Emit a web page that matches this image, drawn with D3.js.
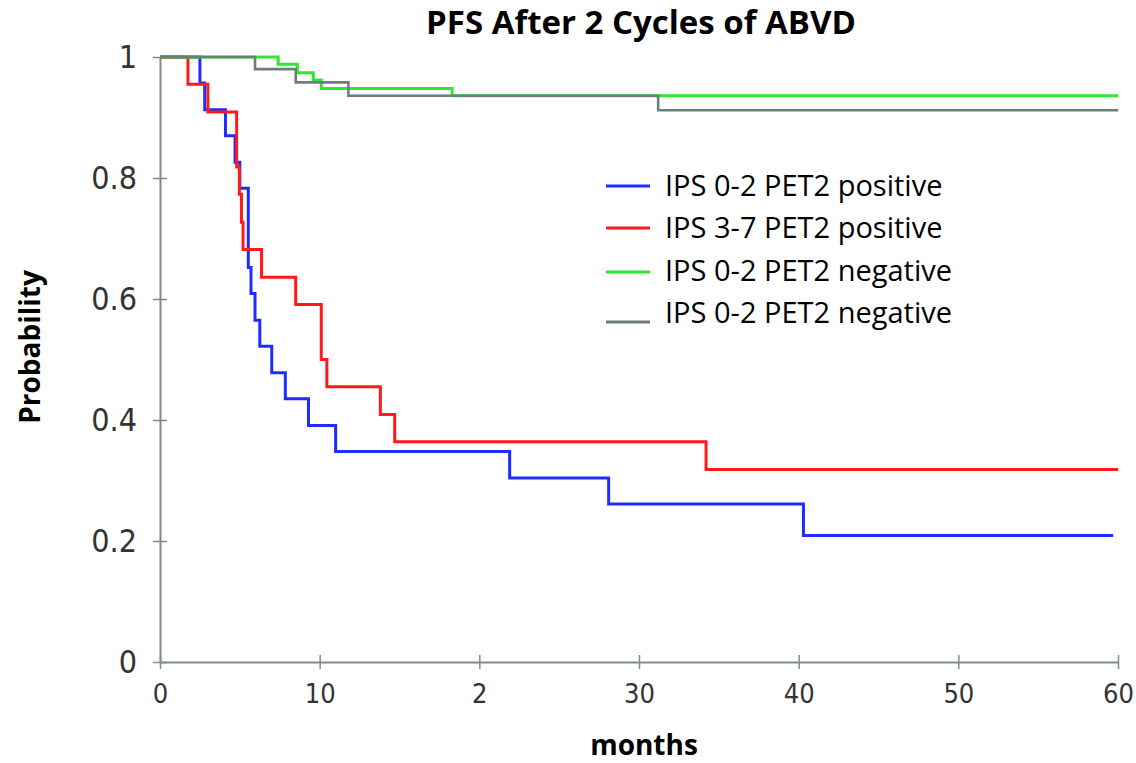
<!DOCTYPE html>
<html lang="en">
<head>
<meta charset="UTF-8">
<title>PFS After 2 Cycles of ABVD</title>
<style>
  body { margin: 0; background: #fff; }
  .tick text { font-family: "DejaVu Sans", sans-serif; font-stretch: condensed; font-weight: normal; fill: #333; }
  .lbl { font-family: "Open Sans", sans-serif; font-weight: bold; fill: #000; }
  .legend text { font-family: "Open Sans", sans-serif; fill: #000; }
</style>
</head>
<body>
<div id="chart"></div>
<script src="https://d3js.org/d3.v7.min.js"></script>
<script>
// x tick labels as printed in the figure (the "2" is in the original)
const xTickValues = [0, 10, 20, 30, 40, 50, 60];
const xTickLabels = ["0", "10", "2", "30", "40", "50", "60"];
const yTickValues = [0, 0.2, 0.4, 0.6, 0.8, 1];
const yTickLabels = ["0", "0.2", "0.4", "0.6", "0.8", "1"];

const seriesNames = ["IPS 0-2 PET2 positive", "IPS 3-7 PET2 positive", "IPS 0-2 PET2 negative", "IPS 0-2 PET2 negative"];

// step curves: time of each step (months) and survival after that step
const blueMonths = [0, 2.5, 2.8, 4.1, 4.7, 5.0, 5.53, 5.7, 5.95, 6.25, 7.0, 7.85, 9.3, 11.0, 21.9, 28.1, 40.3, 59.7];
const blueProb   = [1, 0.957, 0.913, 0.870, 0.826, 0.783, 0.652, 0.609, 0.565, 0.522, 0.478, 0.435, 0.391, 0.348, 0.304, 0.261, 0.209, 0.209];

const redMonths = [0, 1.75, 3.0, 4.8, 4.97, 5.1, 5.2, 6.36, 8.5, 10.1, 10.45, 13.8, 14.7, 34.2, 60];
const redProb   = [1, 0.955, 0.909, 0.818, 0.773, 0.727, 0.682, 0.636, 0.591, 0.5, 0.455, 0.409, 0.364, 0.318, 0.318];

const greenMonths = [0, 7.4, 8.6, 9.6, 10.1, 18.3, 60];
const greenProb   = [1, 0.988, 0.974, 0.962, 0.948, 0.936, 0.936];

const grayMonths = [0, 5.95, 8.5, 11.8, 31.2, 60];
const grayProb   = [1, 0.980, 0.958, 0.936, 0.912, 0.912];

const colors = ["#1f2cff", "#ff1a1a", "#2ee82e", "#6f7c7c"];

const width = 1136, height = 763;
const svg = d3.select("#chart").append("svg")
    .attr("width", width)
    .attr("height", height);

const x = d3.scaleLinear().domain([0, 60]).range([160, 1118]);
const y = d3.scaleLinear().domain([0, 1]).range([662, 57]);

const axisColor = "#7d8d8d";

// x axis
const gx = svg.append("g")
    .attr("transform", `translate(0,${y(0)})`)
    .call(d3.axisBottom(x)
        .tickValues(xTickValues)
        .tickFormat((d, i) => xTickLabels[i])
        .tickSize(7)
        .tickSizeOuter(0)
        .tickPadding(15));
gx.select(".domain").attr("stroke", axisColor).attr("stroke-width", 2);
gx.selectAll(".tick line").attr("y1", -7).attr("stroke", axisColor).attr("stroke-width", 1.5);
gx.selectAll(".tick text").attr("font-size", 27);

// y axis
const gy = svg.append("g")
    .attr("transform", `translate(${x(0)},0)`)
    .call(d3.axisLeft(y)
        .tickValues(yTickValues)
        .tickFormat((d, i) => yTickLabels[i])
        .tickSize(7)
        .tickSizeOuter(0)
        .tickPadding(16));
gy.select(".domain").attr("stroke", axisColor).attr("stroke-width", 2);
gy.selectAll(".tick line").attr("x1", 7).attr("stroke", axisColor).attr("stroke-width", 1.5);
gy.selectAll(".tick text").attr("font-size", 32);

// curves
const series = [
    { months: blueMonths, prob: blueProb, width: 3 },
    { months: redMonths, prob: redProb, width: 3 },
    { months: greenMonths, prob: greenProb, width: 3 },
    { months: grayMonths, prob: grayProb, width: 2.6 }
];

const line = d3.line()
    .x(d => x(d[0]))
    .y(d => y(d[1]))
    .curve(d3.curveStepAfter);

series.forEach((s, i) => {
    svg.append("path")
        .datum(s.months.map((m, j) => [m, s.prob[j]]))
        .attr("fill", "none")
        .attr("stroke", colors[i])
        .attr("stroke-width", s.width)
        .attr("d", line);
});

// legend
const legendRowsY = [186, 228, 271, 313];
const legendLineY = [186, 228, 272, 322];
const legend = svg.append("g").attr("class", "legend");
seriesNames.forEach((name, i) => {
    legend.append("line")
        .attr("x1", 606).attr("x2", 650)
        .attr("y1", legendLineY[i]).attr("y2", legendLineY[i])
        .attr("stroke", colors[i])
        .attr("stroke-width", 3);
    legend.append("text")
        .attr("x", 665)
        .attr("y", legendRowsY[i])
        .attr("dy", "0.35em")
        .attr("font-size", 29)
        .text(name);
});

// titles
svg.append("text")
    .attr("class", "lbl")
    .attr("x", 641).attr("y", 34)
    .attr("text-anchor", "middle")
    .attr("font-size", 33)
    .text("PFS After 2 Cycles of ABVD");

svg.append("text")
    .attr("class", "lbl")
    .attr("x", 644).attr("y", 755)
    .attr("text-anchor", "middle")
    .attr("font-size", 28)
    .text("months");

svg.append("text")
    .attr("class", "lbl")
    .attr("transform", "translate(40,347) rotate(-90)")
    .attr("text-anchor", "middle")
    .attr("font-size", 28)
    .text("Probability");
</script>
</body>
</html>
